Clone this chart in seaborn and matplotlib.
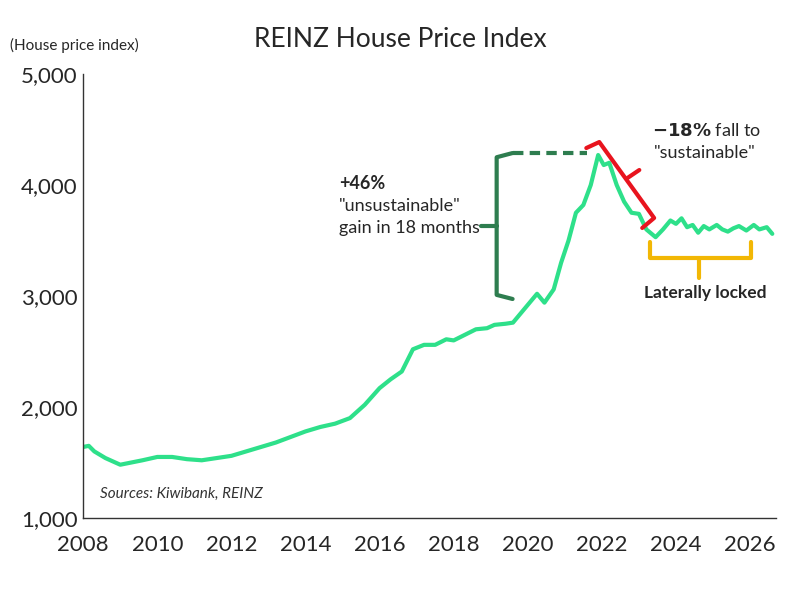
import matplotlib
matplotlib.use("Agg")
import matplotlib.pyplot as plt
import seaborn as sns
import pandas as pd

# 데이터
years = [2008.0, 2008.15, 2008.3, 2008.6, 2008.8, 2009.0, 2009.3, 2009.6, 2010.0, 2010.4, 2010.8, 2011.2,
         2011.6, 2012.0, 2012.4, 2012.8, 2013.2, 2013.6, 2014.0, 2014.4, 2014.8, 2015.2,
         2015.6, 2016.0, 2016.3, 2016.6, 2016.9, 2017.2, 2017.5, 2017.8, 2018.0, 2018.3,
         2018.6, 2018.9, 2019.1, 2019.4, 2019.6, 2019.9, 2020.1, 2020.25, 2020.45, 2020.7,
         2020.9, 2021.1, 2021.3, 2021.5, 2021.7, 2021.9, 2022.05, 2022.2, 2022.4, 2022.6,
         2022.8, 2023.0, 2023.2, 2023.45, 2023.65, 2023.85, 2024.0, 2024.15, 2024.3, 2024.45,
         2024.6, 2024.75, 2024.9, 2025.1, 2025.25, 2025.4, 2025.55, 2025.7, 2025.9, 2026.1,
         2026.25, 2026.45, 2026.6]
index = [1640, 1650, 1600, 1540, 1510, 1480, 1500, 1520, 1550, 1550, 1530, 1520,
         1540, 1560, 1600, 1640, 1680, 1730, 1780, 1820, 1850, 1900,
         2020, 2170, 2250, 2320, 2520, 2560, 2560, 2610, 2600, 2650,
         2700, 2710, 2740, 2750, 2760, 2880, 2960, 3020, 2940, 3060,
         3300, 3500, 3750, 3820, 4000, 4270, 4180, 4200, 4000, 3850,
         3750, 3740, 3600, 3530, 3600, 3680, 3650, 3700, 3620, 3640,
         3570, 3630, 3600, 3640, 3600, 3580, 3610, 3630, 3590, 3640,
         3600, 3620, 3560]
df = pd.DataFrame({"year": years, "index": index})

sns.set_style("white")
plt.rcParams["font.family"] = ["Lato", "DejaVu Sans"]

fig = plt.figure(figsize=(8, 5.92), dpi=100)
ax = fig.add_axes([0.104, 0.125, 0.866, 0.75])
sns.lineplot(data=df, x="year", y="index", ax=ax, color="#2ee08a", linewidth=3)

ax.set_xlim(2008, 2026.7)
ax.set_ylim(1000, 5000)
ax.set_xticks(range(2008, 2027, 2))
ax.set_yticks(range(1000, 5001, 1000))
ax.set_yticklabels([f"{v:,}" for v in range(1000, 5001, 1000)])
ax.tick_params(labelsize=16, length=0)
ax.tick_params(axis="x", pad=12)
ax.tick_params(axis="y", pad=4)
ax.set_xlabel("")
ax.set_ylabel("")
for s in ["top", "right"]:
    ax.spines[s].set_visible(False)
for s in ["left", "bottom"]:
    ax.spines[s].set_color("#333333")
    ax.spines[s].set_linewidth(1)

# +46% 괄호
g = "#2e7d4f"
ax.plot([2019.59, 2019.16, 2019.16, 2019.59], [4288, 4250, 3010, 2973], color=g, lw=3)
ax.plot([2018.75, 2019.16], [3630, 3630], color=g, lw=3)
ax.plot([2019.59, 2021.6], [4288, 4288], color=g, lw=3, ls=(0, (2.5, 1.5)))
ax.text(2014.9, 4018, "+46%", fontsize=13, fontweight="bold", va="center")
ax.text(2014.9, 3811, '"unsustainable"', fontsize=13, va="center")
ax.text(2014.9, 3613, "gain in 18 months", fontsize=13, va="center")

# -18% 괄호
r = "#e8141e"
ax.plot([2021.58, 2021.93, 2023.41, 2023.09], [4333, 4387, 3703, 3613], color=r, lw=3)
ax.plot([2022.69, 2023.01], [4063, 4135], color=r, lw=3)
ax.text(2023.36, 4495, r"$\bf{-18\%}$ fall to", fontsize=13, va="center")
ax.text(2023.4, 4288, '"sustainable"', fontsize=13, va="center")

# 횡보 괄호
y_ = "#f2b705"
ax.plot([2023.31, 2023.31, 2026.03, 2026.03], [3486, 3342, 3342, 3486], color=y_, lw=3)
ax.plot([2024.63, 2024.63], [3342, 3162], color=y_, lw=3)
ax.text(2024.79, 3027, "Laterally locked", fontsize=12.5, fontweight="bold", ha="center", va="center")

ax.text(2008.46, 1216, "Sources: Kiwibank, REINZ", fontsize=11, style="italic", color="#333333", va="center")

fig.text(0.013, 0.924, "(House price index)", fontsize=11, va="center")
fig.text(0.5, 0.934, "REINZ House Price Index", fontsize=19, ha="center", va="center")

fig.savefig("out.png", dpi=100)
